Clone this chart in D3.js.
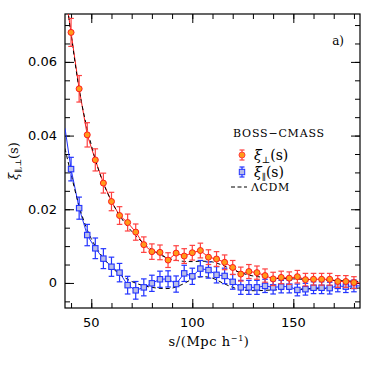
<!DOCTYPE html>
<html>
<head>
<meta charset="utf-8">
<script src="https://cdn.jsdelivr.net/npm/d3@7"></script>
<style>
body { margin: 0; background: #fff; }
text { fill: #000; }
</style>
</head>
<body>
<div id="chart"></div>
<script>
var width = 374;
var height = 374;
var margin = {top: 14, right: 14, bottom: 66, left: 65};

// separations (Mpc/h) of the measured points
var sep = [40, 44, 48, 52, 56, 60, 64, 68, 72, 76, 80, 84, 88, 92, 96, 100, 104, 108,
           112, 116, 120, 124, 128, 132, 136, 140, 144, 148, 152, 156, 160, 164, 168, 172, 176, 180];

// xi_perp (red circles)
var xiPerp = [0.0680, 0.0527, 0.0402, 0.0334, 0.0271, 0.0221, 0.0183, 0.0164, 0.0138, 0.0104,
              0.0085, 0.0083, 0.0062, 0.0081, 0.0073, 0.0082, 0.0088, 0.0070, 0.0065, 0.0056,
              0.0042, 0.0024, 0.0031, 0.0028, 0.0020, 0.0011, 0.0015, 0.0013, 0.0017, 0.0009,
              0.0010, 0.0010, 0.0010, 0.0004, 0.0004, 0.0001];
var xiPerpErr = [0.0038, 0.0036, 0.0033, 0.0030, 0.0027, 0.0025, 0.0024, 0.0023, 0.0022, 0.0021,
                 0.0021, 0.0020, 0.0020, 0.0020, 0.0020, 0.0020, 0.0020, 0.0020, 0.0020, 0.0020,
                 0.0019, 0.0019, 0.0019, 0.0018, 0.0018, 0.0018, 0.0017, 0.0017, 0.0017, 0.0017,
                 0.0016, 0.0016, 0.0016, 0.0016, 0.0016, 0.0016];

// xi_par (blue squares)
var xiPar = [0.0309, 0.0203, 0.0130, 0.0094, 0.0066, 0.0044, 0.0028, -0.0006, -0.0020, -0.0012,
             -0.0001, 0.0010, 0.0011, -0.0003, 0.0026, 0.0018, 0.0039, 0.0035, 0.0022, 0.0019,
             0.0003, -0.0012, -0.0012, -0.0012, -0.0008, -0.0012, -0.0010, -0.0010, -0.0019, -0.0017,
             -0.0013, -0.0013, -0.0014, -0.0008, -0.0010, -0.0008];
var xiParErr = [0.0032, 0.0030, 0.0029, 0.0028, 0.0027, 0.0026, 0.0025, 0.0024, 0.0024, 0.0023,
                0.0022, 0.0022, 0.0022, 0.0022, 0.0022, 0.0022, 0.0022, 0.0022, 0.0022, 0.0021,
                0.0020, 0.0019, 0.0019, 0.0019, 0.0018, 0.0018, 0.0017, 0.0017, 0.0016, 0.0016,
                0.0016, 0.0016, 0.0016, 0.0016, 0.0016, 0.0016];

// where the solid lines run past the first/last point (to the frame)
var lineEndS = [37, 183];
var xiPerpEnds = [0.079, 0.0000];
var xiParEnds = [0.042, -0.0008];

// LambdaCDM model curves (dashed)
var modelS = [37, 40, 45, 50, 55, 60, 65, 70, 75, 80, 85, 90, 95, 100, 105, 110, 115, 120,
              125, 130, 140, 150, 160, 170, 183];
var modelPerp = [0.0800, 0.0675, 0.0495, 0.0375, 0.0285, 0.0222, 0.0175, 0.0140, 0.0112, 0.0090,
                 0.0074, 0.0064, 0.0059, 0.0058, 0.0059, 0.0057, 0.0048, 0.0036, 0.0026, 0.0019,
                 0.0013, 0.0011, 0.0009, 0.0007, 0.0004];
var modelPar = [0.0365, 0.0295, 0.0190, 0.0120, 0.0075, 0.0043, 0.0020, 0.0004, -0.0006, -0.0012,
                -0.0015, -0.0014, -0.0004, 0.0010, 0.0017, 0.0013, 0.0000, -0.0012, -0.0019, -0.0021,
                -0.0019, -0.0017, -0.0016, -0.0015, -0.0014];

var xTicks = [50, 100, 150];
var yTicks = [0, 0.02, 0.04, 0.06];

var redLine = "#ff1a1a";
var redErr = "#ff4040";
var orangeFill = "#ff9a1a";
var blueLine = "#2233ff";
var blueFill = "#b8bce8";

var svg = d3.select("#chart").append("svg")
    .attr("width", width)
    .attr("height", height);

var x = d3.scaleLinear().domain([37, 183]).range([margin.left, width - margin.right]);
var y = d3.scaleLinear().domain([-0.0068, 0.073]).range([height - margin.bottom, margin.top]);

svg.append("clipPath").attr("id", "plotClip")
    .append("rect")
    .attr("x", margin.left)
    .attr("y", margin.top)
    .attr("width", width - margin.left - margin.right)
    .attr("height", height - margin.top - margin.bottom);

// ---- axes: ticks inside on all four sides
function addAxis(axis, transform, ticks, size) {
    var g = svg.append("g")
        .attr("transform", transform)
        .call(axis.tickValues(ticks).tickSize(size).tickFormat(""));
    g.select(".domain").remove();
    g.selectAll("line").attr("stroke", "#000").attr("stroke-width", 1);
    return g;
}

var xMinor = d3.range(40, 181, 10);
var yMinor = d3.range(-0.005, 0.0701, 0.005);
var bottomY = height - margin.bottom;
var rightX = width - margin.right;

addAxis(d3.axisBottom(x), "translate(0," + bottomY + ")", xMinor, -5);
addAxis(d3.axisBottom(x), "translate(0," + bottomY + ")", xTicks, -9);
addAxis(d3.axisTop(x), "translate(0," + margin.top + ")", xMinor, -5);
addAxis(d3.axisTop(x), "translate(0," + margin.top + ")", xTicks, -9);
addAxis(d3.axisLeft(y), "translate(" + margin.left + ",0)", yMinor, -5);
addAxis(d3.axisLeft(y), "translate(" + margin.left + ",0)", yTicks, -9);
addAxis(d3.axisRight(y), "translate(" + rightX + ",0)", yMinor, -5);
addAxis(d3.axisRight(y), "translate(" + rightX + ",0)", yTicks, -9);

svg.append("rect")
    .attr("x", margin.left)
    .attr("y", margin.top)
    .attr("width", rightX - margin.left)
    .attr("height", bottomY - margin.top)
    .attr("fill", "none")
    .attr("stroke", "#000")
    .attr("stroke-width", 1.2);

// tick labels
svg.append("g").selectAll("text")
    .data(xTicks)
    .enter()
    .append("text")
    .attr("x", function (d) { return x(d); })
    .attr("y", bottomY + 19)
    .attr("text-anchor", "middle")
    .attr("font-family", "DejaVu Sans, sans-serif")
    .attr("font-size", "13px")
    .text(function (d) { return d; });

svg.append("g").selectAll("text")
    .data(yTicks)
    .enter()
    .append("text")
    .attr("x", margin.left - 8)
    .attr("y", function (d) { return y(d) + 4.5; })
    .attr("text-anchor", "end")
    .attr("font-family", "DejaVu Sans, sans-serif")
    .attr("font-size", "13px")
    .text(function (d) { return d === 0 ? "0" : d.toFixed(2); });

// axis titles
var xTitle = svg.append("text")
    .attr("x", 209)
    .attr("y", bottomY + 38)
    .attr("text-anchor", "middle")
    .attr("font-family", "DejaVu Serif, serif")
    .attr("font-size", "13px")
    .attr("letter-spacing", "0.6px");
xTitle.append("tspan").text("s/(Mpc h");
xTitle.append("tspan").attr("font-size", "8px").attr("dy", -5).text("\u2212" + "1");
xTitle.append("tspan").attr("dy", 5).text(")");

var yTitle = svg.append("text")
    .attr("transform", "translate(18,161) rotate(-90)")
    .attr("text-anchor", "middle")
    .attr("font-family", "DejaVu Serif, serif")
    .attr("font-size", "13px");
yTitle.append("tspan").attr("font-style", "italic").text("\u03be");
yTitle.append("tspan").attr("font-size", "8px").attr("dy", 3).text("\u2225,\u22a5");
yTitle.append("tspan").attr("dy", -3).text("(s)");

svg.append("text")
    .attr("x", 344)
    .attr("y", 45)
    .attr("text-anchor", "end")
    .attr("font-family", "DejaVu Serif, serif")
    .attr("font-size", "12px")
    .text("a)");

// ---- curves
var plot = svg.append("g").attr("clip-path", "url(#plotClip)");

var line = d3.line()
    .x(function (d) { return x(d[0]); })
    .y(function (d) { return y(d[1]); });

var modelLine = d3.line()
    .x(function (d) { return x(d[0]); })
    .y(function (d) { return y(d[1]); })
    .curve(d3.curveCatmullRom);

function withEnds(vals, ends) {
    var pts = [[lineEndS[0], ends[0]]];
    sep.forEach(function (s, i) { pts.push([s, vals[i]]); });
    pts.push([lineEndS[1], ends[1]]);
    return pts;
}

plot.append("path")
    .datum(withEnds(xiPar, xiParEnds))
    .attr("d", line)
    .attr("fill", "none")
    .attr("stroke", blueLine)
    .attr("stroke-width", 1);

plot.append("path")
    .datum(withEnds(xiPerp, xiPerpEnds))
    .attr("d", line)
    .attr("fill", "none")
    .attr("stroke", redLine)
    .attr("stroke-width", 1);

// model dashes sit over the solid lines
plot.append("path")
    .datum(modelS.map(function (s, i) { return [s, modelPerp[i]]; }))
    .attr("d", modelLine)
    .attr("fill", "none")
    .attr("stroke", "#000")
    .attr("stroke-width", 1)
    .attr("stroke-dasharray", "4,3");

plot.append("path")
    .datum(modelS.map(function (s, i) { return [s, modelPar[i]]; }))
    .attr("d", modelLine)
    .attr("fill", "none")
    .attr("stroke", "#000")
    .attr("stroke-width", 1)
    .attr("stroke-dasharray", "4,3");

// error bars with caps
function addErrorBars(group, vals, errs, color, capHalf) {
    sep.forEach(function (s, i) {
        var cx = x(s);
        var top = y(vals[i] + errs[i]);
        var bot = y(vals[i] - errs[i]);
        group.append("line").attr("x1", cx).attr("x2", cx).attr("y1", top).attr("y2", bot)
            .attr("stroke", color).attr("stroke-width", 1.2);
        group.append("line").attr("x1", cx - capHalf).attr("x2", cx + capHalf).attr("y1", top).attr("y2", top)
            .attr("stroke", color).attr("stroke-width", 1.2);
        group.append("line").attr("x1", cx - capHalf).attr("x2", cx + capHalf).attr("y1", bot).attr("y2", bot)
            .attr("stroke", color).attr("stroke-width", 1.2);
    });
}

var blueGroup = plot.append("g");
addErrorBars(blueGroup, xiPar, xiParErr, blueLine, 2.8);
blueGroup.selectAll("rect")
    .data(sep)
    .enter()
    .append("rect")
    .attr("x", function (d) { return x(d) - 2.7; })
    .attr("y", function (d, i) { return y(xiPar[i]) - 2.7; })
    .attr("width", 5.4)
    .attr("height", 5.4)
    .attr("fill", blueFill)
    .attr("stroke", blueLine)
    .attr("stroke-width", 1.1);

var redGroup = plot.append("g");
addErrorBars(redGroup, xiPerp, xiPerpErr, redErr, 2.8);
redGroup.selectAll("circle")
    .data(sep)
    .enter()
    .append("circle")
    .attr("cx", function (d) { return x(d); })
    .attr("cy", function (d, i) { return y(xiPerp[i]); })
    .attr("r", 3)
    .attr("fill", orangeFill)
    .attr("stroke", redLine)
    .attr("stroke-width", 1);

// ---- legend
var legend = svg.append("g").attr("font-family", "DejaVu Serif, serif");

legend.append("text")
    .attr("x", 233)
    .attr("y", 137)
    .attr("font-size", "11px")
    .attr("letter-spacing", "0.8px")
    .text("BOSS\u2212CMASS");

function legendMarker(cy, color, shape, fill) {
    var cx = 242;
    legend.append("line").attr("x1", cx).attr("x2", cx).attr("y1", cy - 5).attr("y2", cy + 5)
        .attr("stroke", color).attr("stroke-width", 1.2);
    legend.append("line").attr("x1", cx - 2.5).attr("x2", cx + 2.5).attr("y1", cy - 5).attr("y2", cy - 5)
        .attr("stroke", color).attr("stroke-width", 1.2);
    legend.append("line").attr("x1", cx - 2.5).attr("x2", cx + 2.5).attr("y1", cy + 5).attr("y2", cy + 5)
        .attr("stroke", color).attr("stroke-width", 1.2);
    if (shape === "circle") {
        legend.append("circle").attr("cx", cx).attr("cy", cy).attr("r", 3)
            .attr("fill", fill).attr("stroke", color);
    } else {
        legend.append("rect").attr("x", cx - 2.7).attr("y", cy - 2.7).attr("width", 5.4).attr("height", 5.4)
            .attr("fill", fill).attr("stroke", color);
    }
}

function legendLabel(yPos, sub) {
    var t = legend.append("text")
        .attr("x", 254)
        .attr("y", yPos)
        .attr("font-size", "14px");
    t.append("tspan").attr("font-style", "italic").text("\u03be");
    t.append("tspan").attr("font-size", "9px").attr("dy", 3).text(sub);
    t.append("tspan").attr("dy", -3).text("(s)");
}

legendMarker(155, redErr, "circle", orangeFill);
legendLabel(160, "\u22a5");
legendMarker(172, blueLine, "rect", blueFill);
legendLabel(177, "\u2225");

legend.append("line")
    .attr("x1", 231)
    .attr("x2", 247)
    .attr("y1", 187)
    .attr("y2", 187)
    .attr("stroke", "#000")
    .attr("stroke-width", 1)
    .attr("stroke-dasharray", "4,2.5");

legend.append("text")
    .attr("x", 251)
    .attr("y", 191)
    .attr("font-size", "11px")
    .attr("letter-spacing", "0.6px")
    .text("\u039bCDM");
</script>
</body>
</html>
